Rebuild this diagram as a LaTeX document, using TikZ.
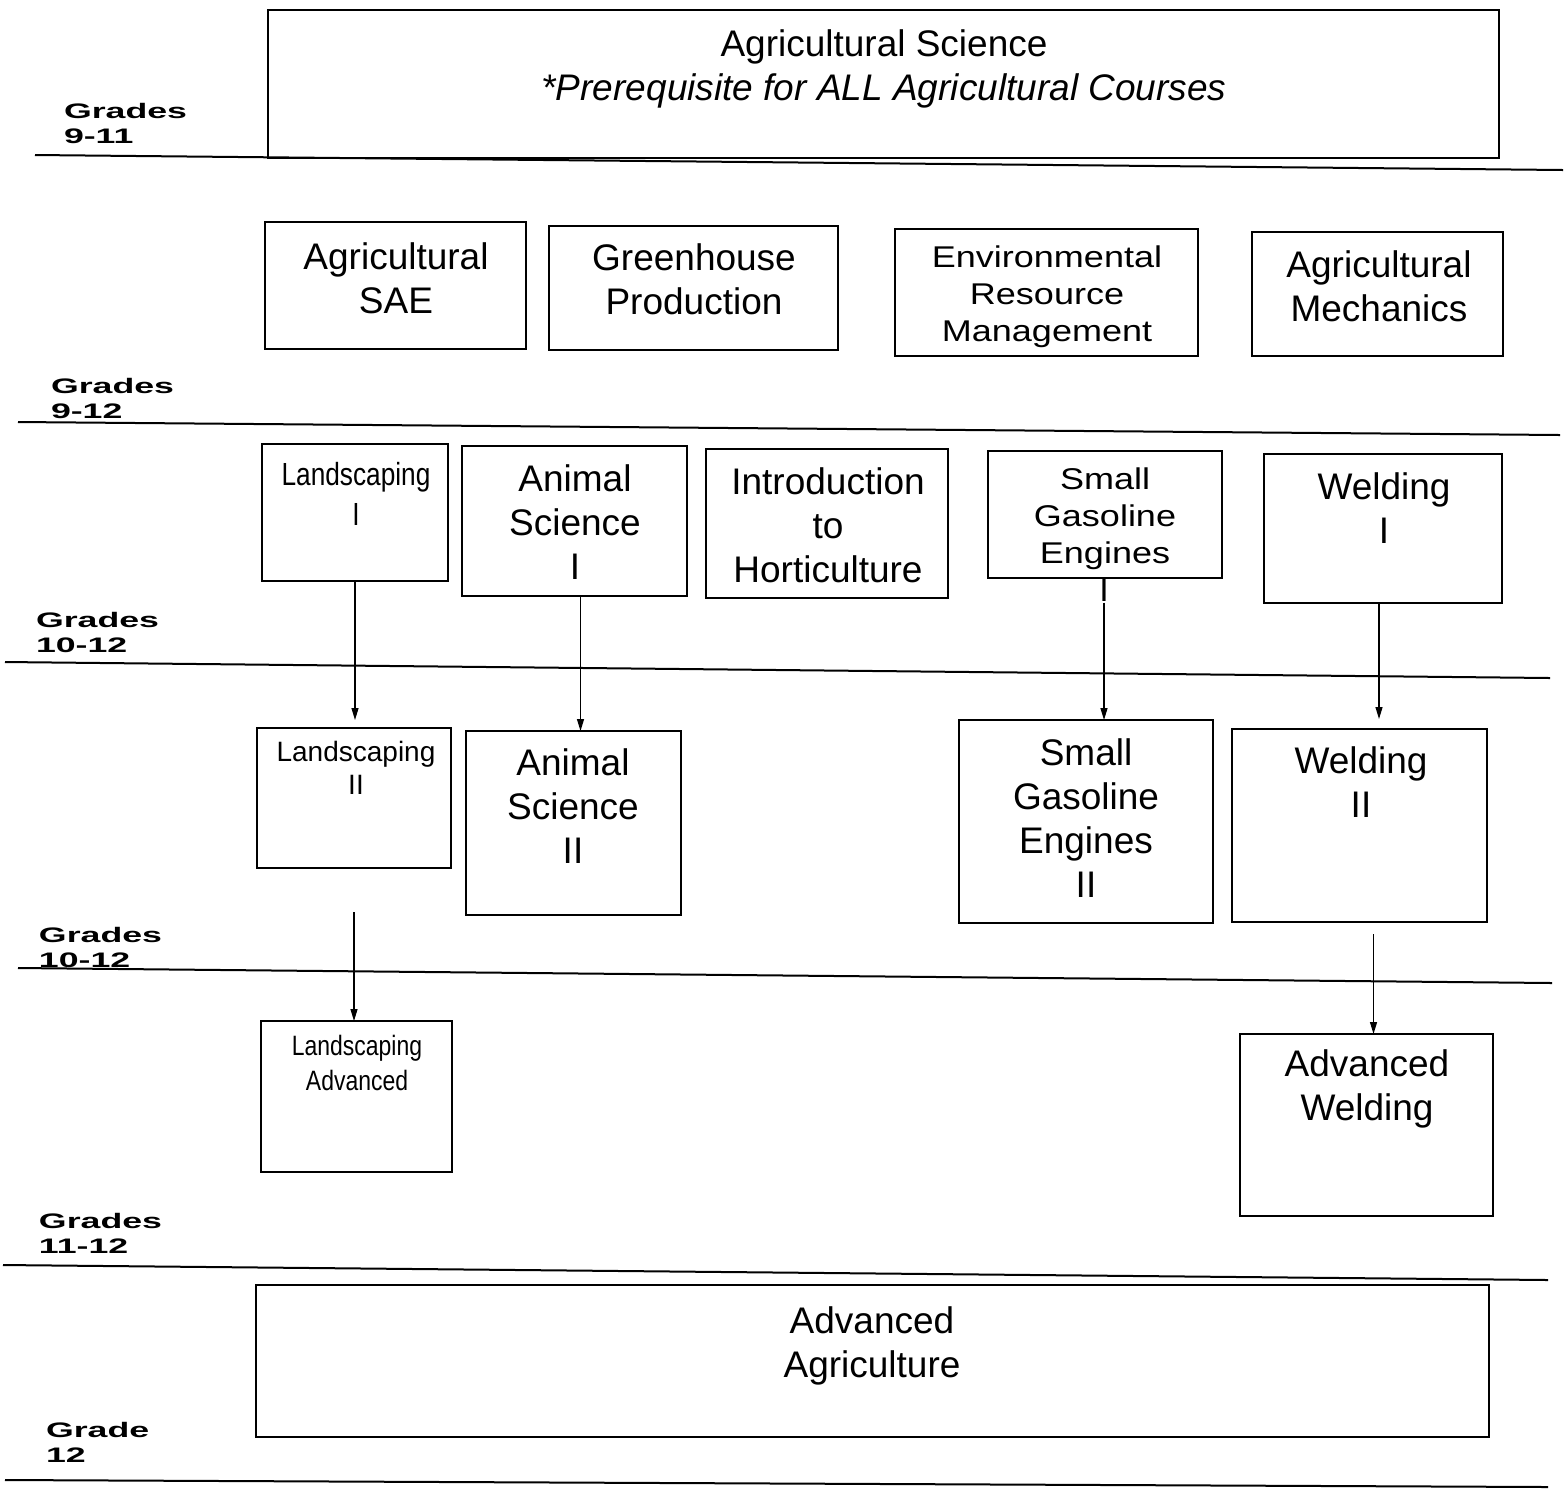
\documentclass[tikz,border=0pt]{standalone}
\usepackage{fontspec}
\setmainfont{Liberation Sans}
\newfontfamily\narrowfont[FakeStretch=0.82]{Liberation Sans}
\newfontfamily\widefont[FakeStretch=1.2]{Liberation Sans}
\newfontfamily\gradefont[FakeStretch=1.7]{Liberation Sans}
\usetikzlibrary{positioning,fit,arrows.meta}
\tikzset{
chartpic/.style={
  x=0.5pt,y=-0.5pt
    ,line width=1pt
}
,box/.style={draw=black,line width=1pt,inner sep=0pt,outer sep=0pt}
,thinbox/.style={box,line width=.6pt}
,course/.style={inner sep=0pt,align=center
  ,font=\fontsize{18.5}{22}\selectfont}
,widecourse/.style={course,font=\widefont\fontsize{15}{18.5}\selectfont}
,narrowcourse/.style={course,font=\narrowfont\fontsize{16}{20}\selectfont}
,smallcourse/.style={course,font=\fontsize{14}{16.5}\selectfont}
,grade/.style={inner sep=0pt,anchor=north west,align=left
  ,font=\gradefont\bfseries\fontsize{10.5}{12.5}\selectfont}
,rule/.style={line width=1pt}
,prereq/.style={-{Triangle[length=6pt,width=3.5pt]},line width=.6pt}
}

\begin{document}
\begin{tikzpicture}[chartpic]
  \useasboundingbox (0,0) rectangle (1567,1490);
  % grade rules
  \draw[rule] (35,155) -- (1563,170);
  \draw[rule] (18,422) -- (1560,435);
  \draw[rule] (5,662) -- (1550,678);
  \draw[rule] (18,968) -- (1552,983);
  \draw[rule] (3,1265) -- (1548,1280);
  \draw[rule] (5,1480) -- (1548,1487);
  % grade labels
  \node[grade] (gnineeleven) at (63,102) {Grades\\9-11};
  \node[grade] (gninetwelve) at (50,377) {Grades\\9-12};
  \node[grade] (gtentwelve) at (35,611) {Grades\\10-12};
  \node[grade] (gtentwelveb) at (38,926) {Grades\\10-12};
  \node[grade] (geleventwelve) at (38,1212) {Grades\\11-12};
  \node[grade] (gtwelve) at (45,1421) {Grade\\12};
  % prerequisite
  \node[box,fit={(268,10) (1499,158)}] (agsci) {};
  \node[course] (agscitxt) at (884,69)
    {Agricultural Science\\\textit{*Prerequisite for ALL Agricultural Courses}};
  % grades 9-12
  \node[box,fit={(265,222) (526,349)}] (sae) {};
  \node[course] (saetxt) at (396,278) {Agricultural\\SAE};
  \node[box,fit={(549,226) (838,350)}] (green) {};
  \node[course] (greentxt) at (694,279) {Greenhouse\\Production};
  \node[box,fit={(895,229) (1198,356)}] (erm) {};
  \node[widecourse] (ermtxt) at (1047,297) {Environmental\\Resource\\Management};
  \node[box,fit={(1252,232) (1503,356)}] (mech) {};
  \node[course] (mechtxt) at (1379,286) {Agricultural\\Mechanics};
  % grades 10-12, first year
  \node[box,fit={(262,444) (448,581)}] (lsi) {};
  \node[narrowcourse] (lsitxt) at (356,494) {Landscaping\\I};
  \node[box,fit={(462,446) (687,596)}] (asi) {};
  \node[course] (asitxt) at (575,522) {Animal\\Science\\I};
  \node[box,fit={(706,449) (948,598)}] (hort) {};
  \node[course] (horttxt) at (828,525) {Introduction\\to\\Horticulture};
  \node[box,fit={(988,451) (1222,578)}] (sgei) {};
  \node[widecourse] (sgeitxt) at (1105,519) {Small\\Gasoline\\Engines};
  \node[course,font=\fontsize{17}{18}\selectfont] (sgeone) at (1104,590) {I};
  \node[box,fit={(1264,454) (1502,603)}] (weldi) {};
  \node[course] (welditxt) at (1384,508) {Welding\\I};
  % grades 10-12, second year
  \node[box,fit={(257,728) (451,868)}] (lsii) {};
  \node[smallcourse] (lsiitxt) at (356,768) {Landscaping\\II};
  \node[box,fit={(466,731) (681,915)}] (asii) {};
  \node[course] (asiitxt) at (573,806) {Animal\\Science\\II};
  \node[box,fit={(959,720) (1213,923)}] (sgeii) {};
  \node[course] (sgeiitxt) at (1086,818) {Small\\Gasoline\\Engines\\II};
  \node[box,fit={(1232,729) (1487,922)}] (weldii) {};
  \node[course] (weldiitxt) at (1361,782) {Welding\\II};
  % grades 11-12
  \node[thinbox,fit={(261,1021) (452,1172)}] (lsadv) {};
  \node[narrowcourse,font=\narrowfont\fontsize{14}{17.5}\selectfont] (lsadvtxt) at (357,1063)
    {Landscaping\\Advanced};
  \node[box,fit={(1240,1034) (1493,1216)}] (advweld) {};
  \node[course] (advweldtxt) at (1367,1089) {Advanced\\Welding};
  % grade 12
  \node[box,fit={(256,1285) (1489,1437)}] (advag) {};
  \node[course] (advagtxt) at (872,1346) {Advanced\\Agriculture};
  % sequences
  \draw[prereq] (lsi.south) -- ([yshift=4pt]lsi.south |- lsii.north);
  \draw[prereq] ([xshift=3pt]asi.south) -- ([xshift=3pt]asi.south |- asii.north);
  \draw[prereq] (sgeone.south) -- (sgeone.south |- sgeii.north);
  \draw[prereq] ([xshift=-2pt]weldi.south) -- ([xshift=-2pt,yshift=5pt]weldi.south |- weldii.north);
  \draw[prereq] ([yshift=-22pt]lsii.south) -- (lsii.south |- lsadv.north);
  \draw[prereq] ([xshift=7pt,yshift=-6pt]weldii.south) -- ([xshift=7pt]weldii.south |- advweld.north);
\end{tikzpicture}
\end{document}
